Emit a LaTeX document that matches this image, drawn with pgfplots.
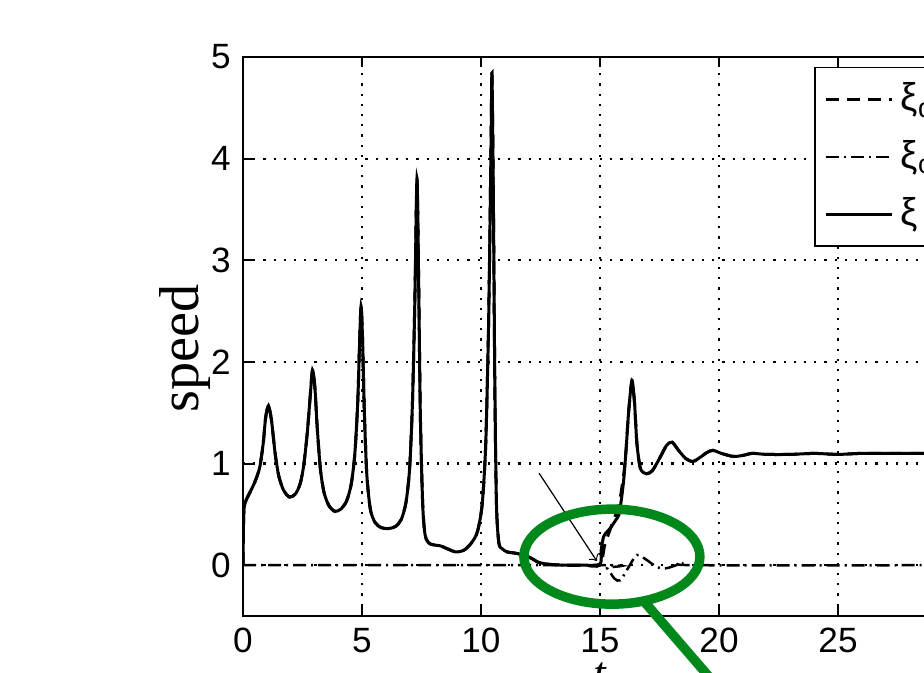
\documentclass[border=0pt]{standalone}
\usepackage{fontspec}
\setmainfont{Liberation Sans}
\newfontfamily\seriffont{Liberation Serif}
\usepackage{pgfplots}
\pgfplotsset{compat=1.18}
\definecolor{ringgreen}{RGB}{0,137,26}

% speed xi (solid)
\pgfplotstableread{
t v
0 0
0.03 0.5
0.1 0.62
0.3 0.72
0.5 0.82
0.7 0.96
0.85 1.2
0.95 1.45
1.07 1.57
1.2 1.42
1.35 1.1
1.5 0.88
1.7 0.74
1.95 0.67
2.2 0.70
2.4 0.80
2.55 0.98
2.7 1.3
2.82 1.65
2.92 1.92
3.02 1.75
3.12 1.35
3.25 0.95
3.4 0.72
3.6 0.59
3.85 0.53
4.1 0.55
4.35 0.63
4.55 0.8
4.7 1.1
4.82 1.6
4.9 2.2
4.96 2.55
5.02 2.25
5.1 1.5
5.2 0.9
5.35 0.55
5.55 0.42
5.8 0.37
6.1 0.36
6.4 0.38
6.65 0.45
6.85 0.62
7.0 0.95
7.12 1.6
7.22 2.6
7.31 3.81
7.38 2.8
7.45 1.5
7.55 0.6
7.65 0.3
7.8 0.22
8.0 0.2
8.3 0.19
8.6 0.16
8.95 0.13
9.3 0.15
9.6 0.22
9.85 0.33
10.05 0.6
10.2 1.2
10.32 2.4
10.42 4.1
10.46 4.84
10.52 3.6
10.58 1.8
10.65 0.6
10.75 0.22
10.9 0.16
11.1 0.13
11.4 0.12
11.8 0.10
12.1 0.07
12.4 0.03
12.8 0.01
13.5 0.0
14.3 0.0
15.0 0.01
15.05 0.15
15.15 0.28
15.3 0.33
15.45 0.37
15.65 0.44
15.8 0.5
15.9 0.65
16.0 0.85
16.1 1.15
16.2 1.5
16.34 1.82
16.45 1.6
16.55 1.2
16.7 0.95
16.95 0.90
17.2 0.93
17.5 1.05
17.8 1.18
18.03 1.21
18.3 1.13
18.6 1.05
18.9 1.02
19.2 1.06
19.5 1.11
19.75 1.13
20.1 1.10
20.6 1.07
21.0 1.08
21.4 1.10
22 1.09
23 1.09
24 1.10
25 1.09
26 1.10
28 1.10
30 1.10
}\speedtable

% desired speed (dashed)
\pgfplotstableread{
t v
0 0
0.03 0.5
0.1 0.62
0.3 0.72
0.5 0.82
0.7 0.96
0.85 1.2
0.95 1.45
1.07 1.57
1.2 1.42
1.35 1.1
1.5 0.88
1.7 0.74
1.95 0.67
2.2 0.70
2.4 0.80
2.55 0.98
2.7 1.3
2.82 1.65
2.92 1.92
3.02 1.75
3.12 1.35
3.25 0.95
3.4 0.72
3.6 0.59
3.85 0.53
4.1 0.55
4.35 0.63
4.55 0.8
4.7 1.1
4.82 1.6
4.9 2.2
4.96 2.55
5.02 2.25
5.1 1.5
5.2 0.9
5.35 0.55
5.55 0.42
5.8 0.37
6.1 0.36
6.4 0.38
6.65 0.45
6.85 0.62
7.0 0.95
7.12 1.6
7.22 2.6
7.31 3.81
7.38 2.8
7.45 1.5
7.55 0.6
7.65 0.3
7.8 0.22
8.0 0.2
8.3 0.19
8.6 0.16
8.95 0.13
9.3 0.15
9.6 0.22
9.85 0.33
10.05 0.6
10.2 1.2
10.32 2.4
10.42 4.1
10.46 4.84
10.52 3.6
10.58 1.8
10.65 0.6
10.75 0.22
10.9 0.16
11.1 0.13
11.4 0.12
11.8 0.10
12.1 0.07
12.4 0.03
12.8 0.01
13.5 0.0
14.3 0.0
15.0 0.0
15.2 0.2
15.5 0.4
15.8 0.6
16.0 0.9
16.1 1.15
16.2 1.5
16.34 1.80
16.45 1.6
16.55 1.2
16.7 0.95
16.95 0.90
17.2 0.93
17.5 1.05
17.8 1.18
18.03 1.21
18.3 1.13
18.6 1.05
18.9 1.02
19.2 1.06
19.5 1.11
19.75 1.13
20.1 1.10
20.6 1.07
21.0 1.08
21.4 1.10
22 1.09
23 1.09
24 1.10
25 1.09
26 1.10
28 1.10
30 1.10
}\desiredtable

% commanded (dash-dot)
\pgfplotstableread{
t v
0 0
15.0 0
15.3 -0.03
15.6 -0.13
15.85 -0.15
16.2 -0.02
16.55 0.10
16.97 0.05
17.4 -0.02
17.8 -0.03
18.5 0.02
19.0 0
30 0
}\cmdtable

\begin{document}
\begin{tikzpicture}
\useasboundingbox (-24.3mm,-5.6mm) rectangle (68.1mm,61.6mm);
\clip (-24.3mm,-5.6mm) rectangle (68.1mm,61.6mm);
\begin{axis}[
    at={(0,0)}, anchor=south west,
    scale only axis, width=71.4mm, height=55.9mm,
    xmin=0, xmax=30, ymin=-0.5, ymax=5,
    xtick={0,5,...,30}, ytick={0,1,...,5},
    tick align=inside, major tick length=1mm,
    axis line style={line width=0.2mm},
    every tick/.style={black, line width=0.2mm},
    grid=major,
    grid style={black, line width=0.22mm, dash pattern=on 0.22mm off 0.8mm},
    tick label style={font=\fontsize{10}{12}\selectfont},
    /pgf/number format/assume math mode=true,
    xlabel={\seriffont\itshape t},
    xlabel style={at={(axis description cs:0.5,0)}, yshift=-3.4mm, anchor=north, font=\fontsize{13}{15}\selectfont},
    ylabel={\seriffont speed},
    ylabel style={at={(axis description cs:-0.081,0.478)}, anchor=center, font=\fontsize{16}{18}\selectfont},
    clip mode=individual,
    legend style={at={(axis description cs:0.80,0.982)}, anchor=north west,
        draw=black, fill=white, font=\fontsize{11}{13}\selectfont,
        row sep=1.0mm, inner xsep=1mm, inner ysep=0.8mm},
    legend cell align=left,
    legend image code/.code={\draw[mark repeat=2,mark phase=2] plot coordinates {(0cm,0cm) (0.33cm,0cm) (0.66cm,0cm)};},
]
\addplot[black, line width=0.3mm, smooth, tension=0.45, dash pattern=on 1.3mm off 0.8mm] table[x=t, y=v] {\desiredtable};
\addlegendentry{ξ\textsubscript{d}}
\addplot[black, line width=0.25mm, smooth, tension=0.45, dash pattern=on 1.3mm off 0.5mm on 0.2mm off 0.5mm] table[x=t, y=v] {\cmdtable};
\addlegendentry{ξ\textsubscript{c}}
\addplot[black, line width=0.3mm, smooth, tension=0.45] table[x=t, y=v] {\speedtable};
\addlegendentry{ξ}

\draw[->, line width=0.12mm] (axis cs:12.44,0.905) -- (axis cs:14.87,0.04);
\draw[ringgreen, line width=0.95mm] (axis cs:15.5,0.084) ellipse [x radius=8.8mm, y radius=4.75mm];
\draw[ringgreen, line width=0.95mm] (axis cs:16.9,-0.37) -- (axis cs:20.25,-1.28);
\end{axis}
\end{tikzpicture}
\end{document}
